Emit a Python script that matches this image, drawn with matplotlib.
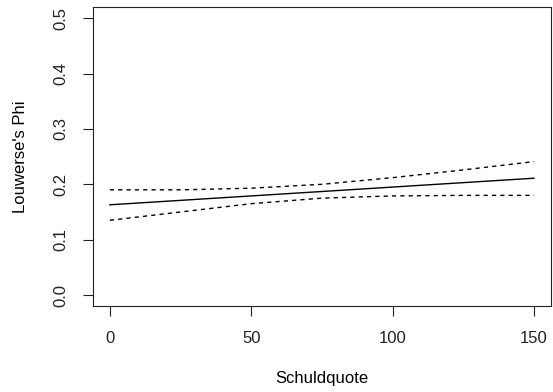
import matplotlib.pyplot as plt

plt.rcParams['font.family'] = ['Liberation Sans', 'DejaVu Sans']

schuldquote = [0, 25, 50, 75, 100, 125, 150]
phi_fit = [0.163, 0.171, 0.179, 0.187, 0.195, 0.203, 0.211]
phi_upper = [0.190, 0.190, 0.193, 0.200, 0.212, 0.226, 0.241]
phi_lower = [0.135, 0.150, 0.165, 0.175, 0.179, 0.180, 0.180]

fig = plt.figure(figsize=(5.53, 3.92), dpi=100)
ax = fig.add_axes([0.168, 0.219, 0.8284, 0.763])

ax.plot(schuldquote, phi_fit, color="black", lw=1.0)
ax.plot(schuldquote, phi_upper, color="black", lw=1.0, dashes=(3, 3))
ax.plot(schuldquote, phi_lower, color="black", lw=1.0, dashes=(3, 3))

ax.set_xlim(-6, 156)
ax.set_ylim(-0.02, 0.52)
ax.set_xticks([0, 50, 100, 150])
ax.set_yticks([0.0, 0.1, 0.2, 0.3, 0.4, 0.5])
ax.set_yticklabels(["0.0", "0.1", "0.2", "0.3", "0.4", "0.5"], rotation=90, va="center")

ax.tick_params(axis="both", labelsize=12, length=7, width=0.8, colors="#222222")
ax.tick_params(axis="x", pad=11)
ax.tick_params(axis="y", pad=11)
for s in ax.spines.values():
    s.set_linewidth(0.8)
    s.set_color("#222222")

ax.set_xlabel("Schuldquote", fontsize=12, labelpad=18)
ax.set_ylabel("Louwerse's Phi", fontsize=12, labelpad=18)

fig.savefig("out.png", dpi=100)
